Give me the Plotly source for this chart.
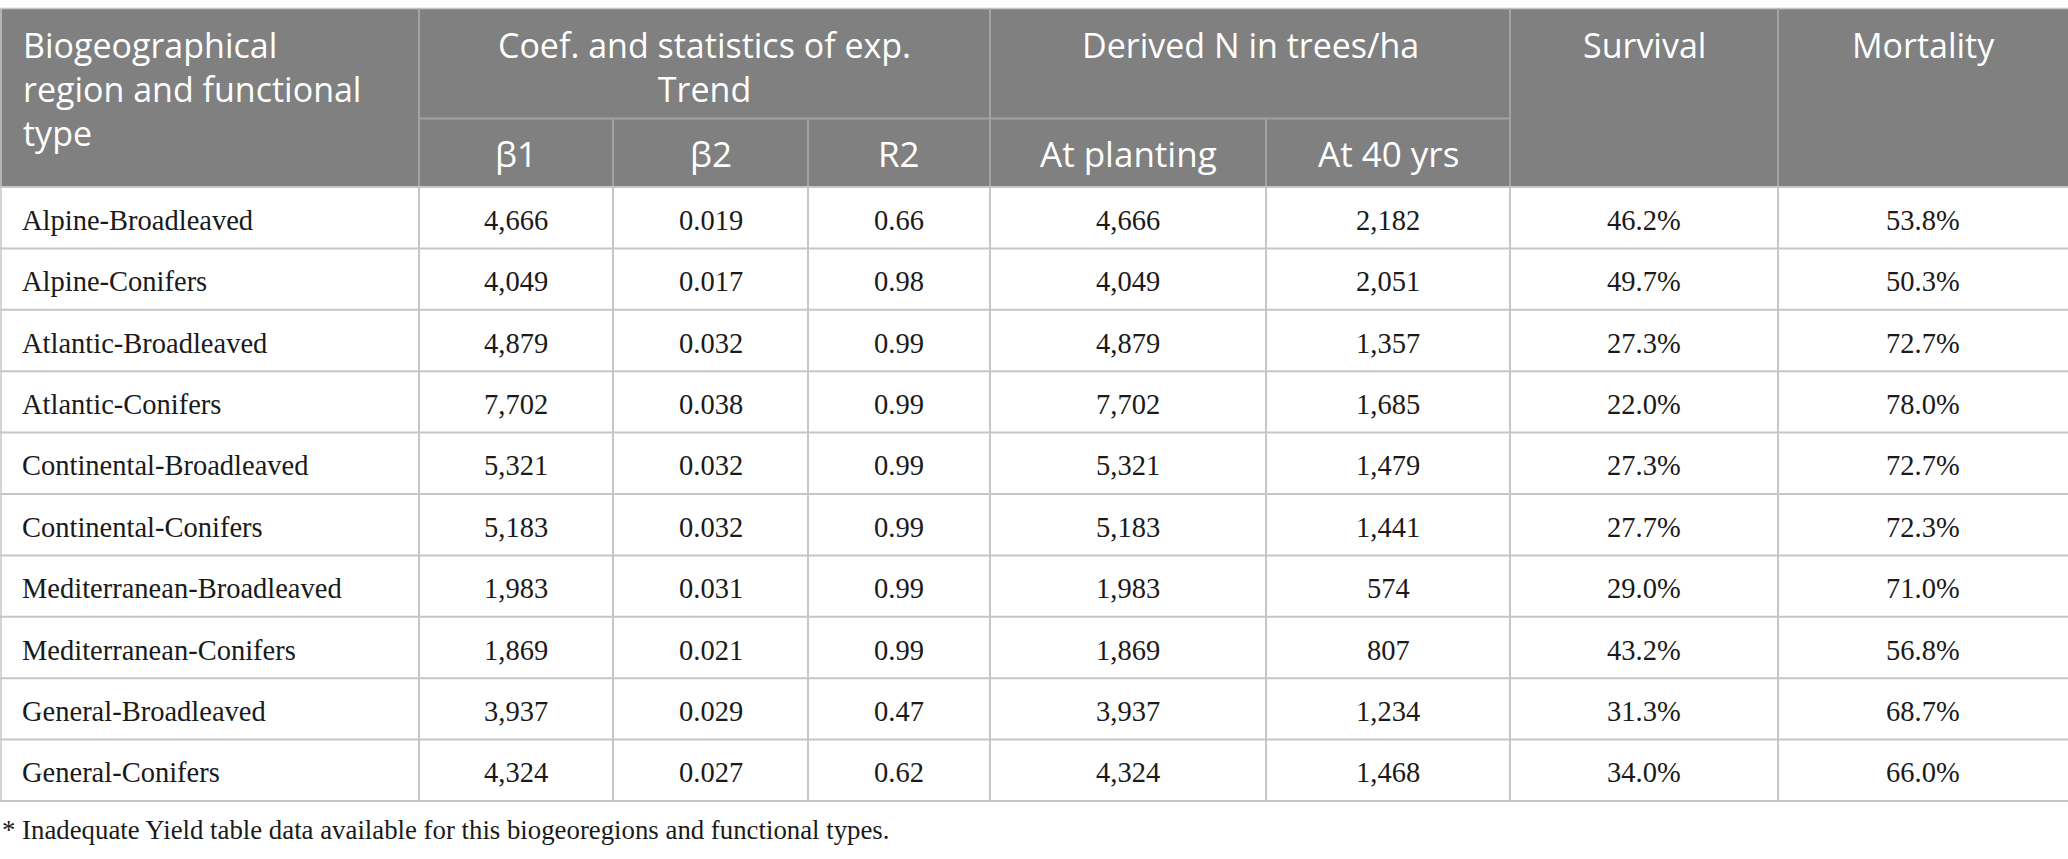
import plotly.graph_objects as go

# ---------------- data ----------------
regions = [
    "Alpine-Broadleaved", "Alpine-Conifers", "Atlantic-Broadleaved", "Atlantic-Conifers",
    "Continental-Broadleaved", "Continental-Conifers", "Mediterranean-Broadleaved",
    "Mediterranean-Conifers", "General-Broadleaved", "General-Conifers",
]
beta1 = [4666, 4049, 4879, 7702, 5321, 5183, 1983, 1869, 3937, 4324]
beta2 = [0.019, 0.017, 0.032, 0.038, 0.032, 0.032, 0.031, 0.021, 0.029, 0.027]
r2 = [0.66, 0.98, 0.99, 0.99, 0.99, 0.99, 0.99, 0.99, 0.47, 0.62]
n_planting = [4666, 4049, 4879, 7702, 5321, 5183, 1983, 1869, 3937, 4324]
n_40yrs = [2182, 2051, 1357, 1685, 1479, 1441, 574, 807, 1234, 1468]
survival = [46.2, 49.7, 27.3, 22.0, 27.3, 27.7, 29.0, 43.2, 31.3, 34.0]
mortality = [53.8, 50.3, 72.7, 78.0, 72.7, 72.3, 71.0, 56.8, 68.7, 66.0]

first_header = ["Biogeographical", "region and functional", "type"]
group_headers = [["Coef. and statistics of exp.", "Trend"], ["Derived N in trees/ha"]]
sub_headers = ["β1", "β2", "R2", "At planting", "At 40 yrs"]
single_headers = ["Survival", "Mortality"]
footnote = "* Inadequate Yield table data available for this biogeoregions and functional types."

# ---------------- layout / style ----------------
W, H = 2068, 859
col_edges = [0, 419, 613, 808, 990, 1266, 1510, 1778, 2068]
top, mid, head_bot = 8.5, 118.5, 187
row_h = 61.4
HEAD_BG = "#808080"
HEAD_LINE = "#a2a2a2"
BODY_LINE = "#c6c6c6"
HEAD_SIZE = 34
HEAD_FONT = dict(family="Open Sans", size=HEAD_SIZE, color="white")
SUB_FONT = dict(family="Open Sans", size=35, color="white")
BODY_FONT = dict(family="Liberation Serif", size=28.5, color="#1a1a1a")
HEAD_LINE1 = 44.5               # centre of the first header text line
HEAD_STEP = 1.3 * HEAD_SIZE     # plotly line spacing for <br>

columns = [
    regions,
    [f"{v:,}" for v in beta1],
    [f"{v:.3f}" for v in beta2],
    [f"{v:.2f}" for v in r2],
    [f"{v:,}" for v in n_planting],
    [f"{v:,}" for v in n_40yrs],
    [f"{v:.1f}%" for v in survival],
    [f"{v:.1f}%" for v in mortality],
]

shapes, annots = [], []
nrows = len(regions)
bottom = head_bot + nrows * row_h

# header background
shapes.append(dict(type="rect", x0=col_edges[0], x1=col_edges[-1], y0=top, y1=head_bot,
                   fillcolor=HEAD_BG, line=dict(width=0), layer="below"))
# top border
shapes.append(dict(type="line", x0=col_edges[0], x1=col_edges[-1], y0=top, y1=top,
                   line=dict(color=BODY_LINE, width=1.5)))
# left border
shapes.append(dict(type="line", x0=col_edges[0] + 1, x1=col_edges[0] + 1, y0=top, y1=bottom,
                   line=dict(color=BODY_LINE, width=1.5)))
# header mid line under the group headers
shapes.append(dict(type="line", x0=col_edges[1], x1=col_edges[6], y0=mid, y1=mid,
                   line=dict(color=HEAD_LINE, width=2)))
# header vertical lines
for i in [1, 4, 6, 7]:
    shapes.append(dict(type="line", x0=col_edges[i], x1=col_edges[i], y0=top, y1=head_bot,
                       line=dict(color=HEAD_LINE, width=2)))
for i in [2, 3, 5]:
    shapes.append(dict(type="line", x0=col_edges[i], x1=col_edges[i], y0=mid, y1=head_bot,
                       line=dict(color=HEAD_LINE, width=2)))
# body horizontal lines
for r in range(nrows + 1):
    y = head_bot + r * row_h
    shapes.append(dict(type="line", x0=col_edges[0], x1=col_edges[-1], y0=y, y1=y,
                       line=dict(color=BODY_LINE, width=2)))
# body vertical lines
for i in range(1, len(col_edges) - 1):
    shapes.append(dict(type="line", x0=col_edges[i], x1=col_edges[i], y0=head_bot, y1=bottom,
                       line=dict(color=BODY_LINE, width=2)))


def head_text(x, lines, anchor="center"):
    n = len(lines)
    annots.append(dict(x=x, y=HEAD_LINE1 + (n - 1) * HEAD_STEP / 2, text="<br>".join(lines),
                       xanchor=anchor, yanchor="middle", align=anchor,
                       showarrow=False, font=HEAD_FONT))


# header texts
head_text(col_edges[0] + 21, first_header, "left")
spans = [(1, 4), (4, 6)]
for (a, b), lines in zip(spans, group_headers):
    head_text((col_edges[a] + col_edges[b]) / 2, lines)
for k, txt in enumerate(single_headers):
    i = 6 + k
    head_text((col_edges[i] + col_edges[i + 1]) / 2, [txt])
for k, txt in enumerate(sub_headers):
    i = 1 + k
    annots.append(dict(x=(col_edges[i] + col_edges[i + 1]) / 2, y=(mid + head_bot) / 2 + 0.5,
                       text=txt, xanchor="center", yanchor="middle", showarrow=False, font=SUB_FONT))

# body texts
for c, col in enumerate(columns):
    for r, txt in enumerate(col):
        y = head_bot + (r + 0.5) * row_h + 2.5
        if c == 0:
            annots.append(dict(x=col_edges[0] + 20, y=y, text=txt, xanchor="left", yanchor="middle",
                               showarrow=False, font=BODY_FONT))
        else:
            annots.append(dict(x=(col_edges[c] + col_edges[c + 1]) / 2, y=y, text=txt,
                               xanchor="center", yanchor="middle", showarrow=False, font=BODY_FONT))

# footnote
annots.append(dict(x=0, y=bottom + 29, text=footnote, xanchor="left", yanchor="middle",
                   showarrow=False, font=dict(family="Liberation Serif", size=26.8, color="#1a1a1a")))

fig = go.Figure()
fig.update_layout(
    width=W, height=H, margin=dict(l=0, r=0, t=0, b=0, pad=0),
    paper_bgcolor="white", plot_bgcolor="white",
    xaxis=dict(range=[0, W], visible=False, fixedrange=True),
    yaxis=dict(range=[H, 0], visible=False, fixedrange=True),
    shapes=shapes, annotations=annots, showlegend=False,
)
fig.write_html("out.html", config={"displayModeBar": False},
               post_script="document.body.style.margin='0px';")
